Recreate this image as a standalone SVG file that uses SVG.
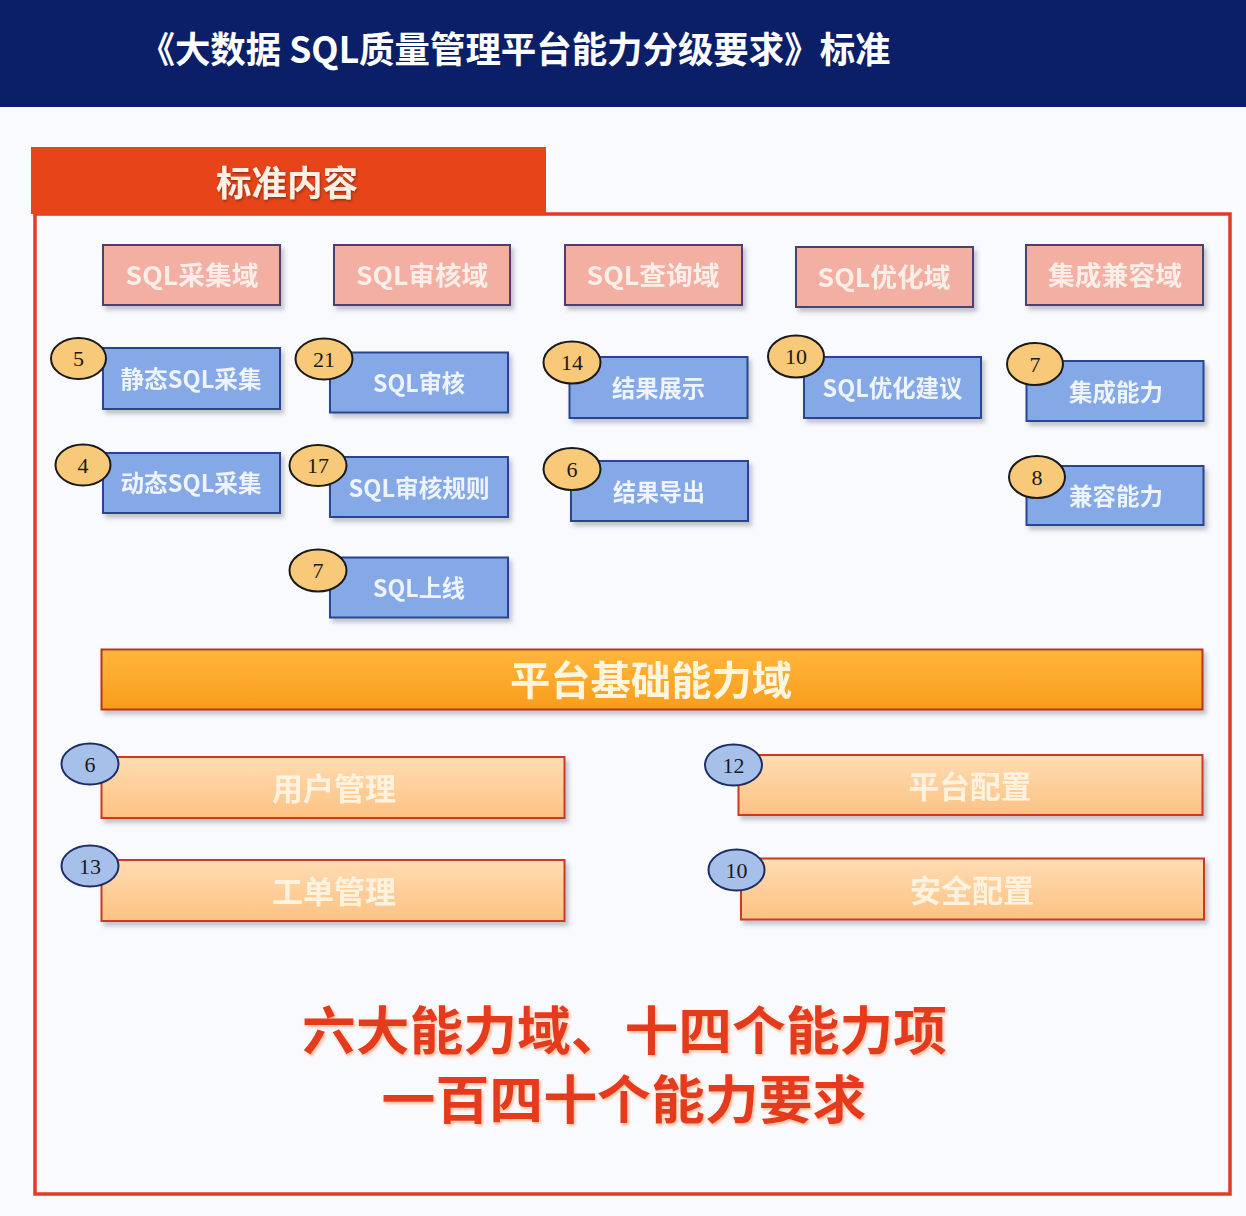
<svg xmlns="http://www.w3.org/2000/svg" width="1246" height="1216" viewBox="0 0 1246 1216">
<defs>
<style>
.cjk{font-family:"Noto Sans CJK SC","Noto Sans",sans-serif;font-weight:700;text-anchor:middle}
.pink rect{fill:#f2afa2;stroke:#4d4170;stroke-width:2}
.blue rect{fill:#84a9e6;stroke:#2a4590;stroke-width:2}
.lo rect{fill:url(#gLo);stroke:#c83a22;stroke-width:2}
.pink text{fill:#fbeee9;font-size:26px}
.blue text.l{fill:#eef3fc;font-size:23.5px}
.lo text.l{fill:#fff3e0;font-size:31px}
.by ellipse{fill:#f8c978;stroke:#1a1a1a;stroke-width:2}
.bb ellipse{fill:#a6c0ea;stroke:#1d2d66;stroke-width:2}
.num{font-family:"Liberation Serif",serif;font-size:22px;fill:#1a1a1a;text-anchor:middle}
.box{filter:url(#sh)}
</style>
<filter id="sh" x="-10%" y="-20%" width="125%" height="150%">
<feDropShadow dx="3" dy="4" stdDeviation="2.2" flood-color="#5a5a70" flood-opacity="0.35"/>
</filter>
<filter id="tsh" x="-10%" y="-20%" width="125%" height="150%">
<feDropShadow dx="1" dy="1.5" stdDeviation="1" flood-color="#6a2010" flood-opacity="0.7"/>
</filter>
<filter id="rsh" x="-10%" y="-20%" width="125%" height="150%">
<feDropShadow dx="1.5" dy="2" stdDeviation="1.5" flood-color="#f5a070" flood-opacity="0.7"/>
</filter>
<linearGradient id="gOr" x1="0" y1="0" x2="0" y2="1">
<stop offset="0" stop-color="#ffb63c"/>
<stop offset="1" stop-color="#f99d1c"/>
</linearGradient>
<linearGradient id="gLo" x1="0" y1="0" x2="0" y2="1">
<stop offset="0" stop-color="#ffdcb2"/>
<stop offset="1" stop-color="#fcc283"/>
</linearGradient>
</defs>

<rect x="0" y="0" width="1246" height="1216" fill="#f9fafd"/>

<g id="header">
<rect x="0" y="0" width="1246" height="107" fill="#0b1f68"/>
<text class="cjk" x="515" y="63" font-size="36" fill="#ffffff" textLength="751" lengthAdjust="spacingAndGlyphs">《大数据 SQL质量管理平台能力分级要求》标准</text>
</g>

<g id="frame">
<rect x="35" y="214" width="1195" height="980" fill="none" stroke="#e03c24" stroke-width="3.5"/>
</g>

<g id="tab">
<rect x="31" y="147" width="515" height="67" fill="#e8441a"/>
<text class="cjk" x="287" y="196" font-size="35" fill="#fff0e6" filter="url(#tsh)" textLength="142" lengthAdjust="spacingAndGlyphs">标准内容</text>
</g>

<!-- domain headers -->
<g id="d-collect" class="box pink"><rect x="103" y="245" width="177" height="60"/><text class="cjk" x="192" y="285" textLength="133" lengthAdjust="spacingAndGlyphs">SQL采集域</text></g>
<g id="d-audit" class="box pink"><rect x="334" y="245" width="176" height="60"/><text class="cjk" x="422" y="285" textLength="132" lengthAdjust="spacingAndGlyphs">SQL审核域</text></g>
<g id="d-query" class="box pink"><rect x="565" y="245" width="177" height="60"/><text class="cjk" x="653" y="285" textLength="133" lengthAdjust="spacingAndGlyphs">SQL查询域</text></g>
<g id="d-opt" class="box pink"><rect x="796" y="247" width="177" height="60"/><text class="cjk" x="884" y="287" textLength="133" lengthAdjust="spacingAndGlyphs">SQL优化域</text></g>
<g id="d-integ" class="box pink"><rect x="1026" y="245" width="177" height="60"/><text class="cjk" x="1115" y="285" textLength="134" lengthAdjust="spacingAndGlyphs">集成兼容域</text></g>

<!-- blue items -->
<g id="i-static">
<g class="box blue"><rect x="103" y="348" width="177" height="61"/><text class="cjk l" x="191" y="388" textLength="141" lengthAdjust="spacingAndGlyphs">静态SQL采集</text></g>
<g class="by"><ellipse cx="78.5" cy="358.5" rx="27.5" ry="20.5"/><text class="num" x="78.5" y="366">5</text></g>
</g>
<g id="i-dynamic">
<g class="box blue"><rect x="103" y="453" width="177" height="60"/><text class="cjk l" x="191" y="492" textLength="141" lengthAdjust="spacingAndGlyphs">动态SQL采集</text></g>
<g class="by"><ellipse cx="83" cy="465" rx="27.5" ry="20.5"/><text class="num" x="83" y="472.5">4</text></g>
</g>
<g id="i-audit">
<g class="box blue"><rect x="330" y="352.5" width="178" height="60"/><text class="cjk l" x="419" y="392" textLength="92" lengthAdjust="spacingAndGlyphs">SQL审核</text></g>
<g class="by"><ellipse cx="324" cy="359" rx="28.5" ry="20.5"/><text class="num" x="324" y="366.5">21</text></g>
</g>
<g id="i-rules">
<g class="box blue"><rect x="330" y="457" width="178" height="60"/><text class="cjk l" x="419" y="496.5" textLength="141" lengthAdjust="spacingAndGlyphs">SQL审核规则</text></g>
<g class="by"><ellipse cx="318" cy="465.5" rx="28.5" ry="20.5"/><text class="num" x="318" y="473">17</text></g>
</g>
<g id="i-online">
<g class="box blue"><rect x="330" y="557.5" width="178" height="60"/><text class="cjk l" x="419" y="597" textLength="92" lengthAdjust="spacingAndGlyphs">SQL上线</text></g>
<g class="by"><ellipse cx="318" cy="570.5" rx="28.5" ry="21"/><text class="num" x="318" y="578">7</text></g>
</g>
<g id="i-show">
<g class="box blue"><rect x="569.5" y="357" width="178" height="61"/><text class="cjk l" x="658.5" y="397" textLength="93" lengthAdjust="spacingAndGlyphs">结果展示</text></g>
<g class="by"><ellipse cx="572" cy="362.5" rx="28.5" ry="21"/><text class="num" x="572" y="370">14</text></g>
</g>
<g id="i-export">
<g class="box blue"><rect x="571" y="461" width="177" height="60"/><text class="cjk l" x="659" y="500.5" textLength="92" lengthAdjust="spacingAndGlyphs">结果导出</text></g>
<g class="by"><ellipse cx="572" cy="469" rx="28.5" ry="21"/><text class="num" x="572" y="476.5">6</text></g>
</g>
<g id="i-optadv">
<g class="box blue"><rect x="804" y="357" width="177" height="61"/><text class="cjk l" x="892.5" y="397" textLength="140" lengthAdjust="spacingAndGlyphs">SQL优化建议</text></g>
<g class="by"><ellipse cx="796" cy="356.5" rx="28" ry="21"/><text class="num" x="796" y="364">10</text></g>
</g>
<g id="i-integ">
<g class="box blue"><rect x="1026.5" y="361" width="177" height="60"/><text class="cjk l" x="1116" y="401" textLength="94" lengthAdjust="spacingAndGlyphs">集成能力</text></g>
<g class="by"><ellipse cx="1035" cy="364" rx="28" ry="21"/><text class="num" x="1035" y="371.5">7</text></g>
</g>
<g id="i-compat">
<g class="box blue"><rect x="1026.5" y="466" width="177" height="59"/><text class="cjk l" x="1116" y="505" textLength="94" lengthAdjust="spacingAndGlyphs">兼容能力</text></g>
<g class="by"><ellipse cx="1037" cy="477" rx="28" ry="21"/><text class="num" x="1037" y="484.5">8</text></g>
</g>

<!-- platform -->
<g id="d-platform" class="box">
<rect x="101.5" y="649.5" width="1101" height="60" fill="url(#gOr)" stroke="#b8361a" stroke-width="2"/>
<text class="cjk" x="651" y="695" font-size="40" fill="#fff4dc" textLength="282" lengthAdjust="spacingAndGlyphs">平台基础能力域</text>
</g>

<g id="i-user">
<g class="box lo"><rect x="101.5" y="757" width="463" height="61"/><text class="cjk l" x="334" y="800" textLength="124" lengthAdjust="spacingAndGlyphs">用户管理</text></g>
<g class="bb"><ellipse cx="90" cy="764" rx="28.5" ry="20.5"/><text class="num" x="90" y="771.5">6</text></g>
</g>
<g id="i-ticket">
<g class="box lo"><rect x="101.5" y="860" width="463" height="61"/><text class="cjk l" x="334" y="903" textLength="124" lengthAdjust="spacingAndGlyphs">工单管理</text></g>
<g class="bb"><ellipse cx="90" cy="866" rx="28.5" ry="20.5"/><text class="num" x="90" y="873.5">13</text></g>
</g>
<g id="i-pconf">
<g class="box lo"><rect x="738.5" y="755" width="464" height="60"/><text class="cjk l" x="970" y="797.5" textLength="123" lengthAdjust="spacingAndGlyphs">平台配置</text></g>
<g class="bb"><ellipse cx="733.5" cy="765" rx="28.5" ry="20.5"/><text class="num" x="733.5" y="772.5">12</text></g>
</g>
<g id="i-sconf">
<g class="box lo"><rect x="741" y="858.5" width="463" height="61"/><text class="cjk l" x="972" y="901.5" textLength="124" lengthAdjust="spacingAndGlyphs">安全配置</text></g>
<g class="bb"><ellipse cx="736.5" cy="870" rx="28" ry="20.5"/><text class="num" x="736.5" y="877.5">10</text></g>
</g>

<g id="summary" filter="url(#rsh)">
<text class="cjk" x="624.5" y="1050" font-size="52" fill="#e53a1c" textLength="645" lengthAdjust="spacingAndGlyphs">六大能力域、十四个能力项</text>
<text class="cjk" x="624" y="1119" font-size="52" fill="#e53a1c" textLength="485" lengthAdjust="spacingAndGlyphs">一百四十个能力要求</text>
</g>
</svg>
